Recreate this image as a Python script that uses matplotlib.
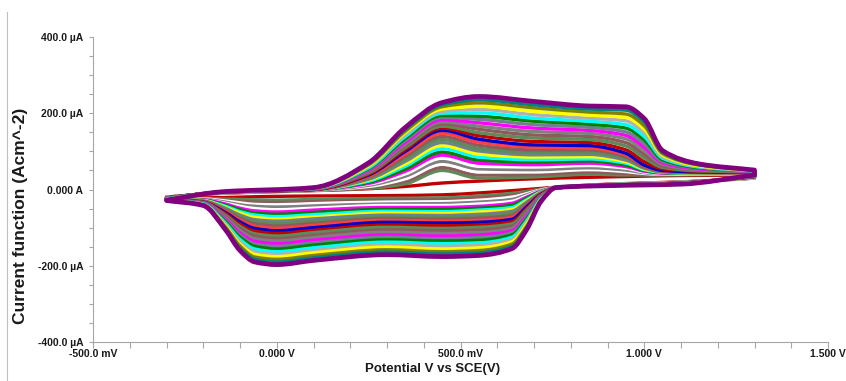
import matplotlib
matplotlib.use("Agg")
import matplotlib.pyplot as plt
import numpy as np
from matplotlib.lines import Line2D
from matplotlib.patches import PathPatch
from matplotlib.path import Path

# Repeated CV scans, -300 mV -> 1300 mV -> -300 mV vs SCE, 28 cycles.
# Potentials (mV) at which each scan branch is sampled.
E_FWD = [-300, -150, 100, 250, 350, 450, 550, 700, 850, 950, 1000, 1050, 1150, 1300]
E_REV = [1300, 1100, 900, 760, 720, 680, 640, 550, 450, 300, 100, 0, -60, -100, -140, -200, -300]

# Current (uA), one row per potential, one entry per cycle (1..28).
I_FWD = [
    [-20, -20, -20, -20, -20, -21, -21, -21, -21, -21, -21, -22, -22, -22, -22, -22, -23, -23, -23, -24, -24, -25, -25, -26, -26, -27, -27, -28],
    [-10, -9, -9, -9, -9, -8, -8, -8, -8, -8, -8, -7, -7, -7, -7, -7, -7, -7, -7, -7, -6, -6, -6, -6, -6, -6, -6, -6],
    [-3, -2, -2, -2, -2, -1, -1, -1, -1, -1, -1, 0, 0, 0, 0, 0, 1, 1, 2, 2, 2, 3, 3, 3, 4, 4, 5, 5],
    [2, 3, 6, 8, 11, 14, 16, 19, 22, 25, 27, 30, 33, 35, 38, 40, 43, 45, 48, 50, 53, 55, 57, 60, 62, 65, 67, 70],
    [8, 15, 22, 28, 35, 41, 48, 54, 61, 67, 74, 80, 87, 93, 100, 105, 110, 115, 119, 124, 129, 134, 139, 144, 149, 153, 158, 163],
    [17, 50, 58, 66, 74, 82, 90, 98, 107, 115, 123, 131, 139, 147, 155, 161, 166, 172, 177, 183, 189, 194, 200, 205, 211, 217, 222, 228],
    [22, 30, 38, 46, 54, 61, 69, 77, 85, 93, 101, 108, 116, 124, 132, 141, 149, 158, 166, 175, 184, 192, 201, 210, 218, 227, 235, 244],
    [28, 33, 39, 46, 52, 59, 65, 72, 78, 85, 91, 98, 104, 111, 117, 126, 135, 143, 152, 161, 170, 179, 187, 196, 205, 214, 222, 231],
    [32, 40, 46, 52, 57, 63, 69, 75, 80, 86, 92, 98, 104, 109, 115, 123, 131, 139, 147, 155, 163, 171, 179, 187, 195, 203, 211, 219],
    [34, 38, 42, 47, 51, 56, 60, 64, 69, 73, 77, 82, 86, 91, 95, 104, 114, 123, 133, 142, 151, 161, 170, 180, 189, 198, 208, 217],
    [35, 38, 40, 42, 44, 46, 48, 50, 52, 54, 56, 58, 60, 62, 64, 73, 83, 92, 102, 111, 120, 130, 139, 149, 158, 167, 177, 186],
    [36, 38, 39, 40, 41, 42, 43, 44, 45, 46, 46, 47, 48, 49, 50, 54, 58, 62, 66, 70, 74, 78, 82, 86, 90, 94, 98, 102],
    [37, 39, 40, 40, 41, 41, 42, 42, 43, 43, 44, 44, 45, 45, 46, 48, 49, 51, 52, 54, 56, 57, 59, 60, 62, 64, 65, 67],
    [38, 40, 40, 41, 41, 41, 42, 42, 42, 43, 43, 44, 44, 44, 45, 46, 46, 47, 47, 48, 48, 49, 49, 49, 50, 50, 51, 51],
]
I_REV = [
    [30, 30, 30, 31, 31, 31, 32, 32, 32, 32, 33, 33, 33, 34, 34, 34, 35, 35, 35, 35, 36, 36, 36, 37, 37, 37, 38, 38],
    [20, 19, 19, 19, 19, 18, 18, 18, 18, 18, 18, 17, 17, 17, 17, 17, 17, 16, 16, 16, 16, 15, 15, 15, 15, 14, 14, 14],
    [14, 13, 13, 13, 13, 12, 12, 12, 12, 12, 12, 11, 11, 11, 11, 11, 11, 11, 11, 11, 11, 10, 10, 10, 10, 10, 10, 10],
    [6, 5, 5, 5, 5, 5, 5, 5, 4, 4, 4, 4, 4, 4, 4, 4, 4, 4, 4, 4, 4, 5, 5, 5, 5, 5, 5, 5],
    [3, 1, 0, -1, -2, -3, -4, -5, -6, -7, -8, -9, -10, -11, -12, -13, -15, -16, -18, -19, -20, -22, -23, -25, -26, -27, -29, -30],
    [0, -5, -8, -11, -14, -17, -20, -23, -27, -30, -33, -36, -39, -42, -45, -50, -54, -59, -63, -68, -73, -77, -82, -86, -91, -96, -100, -105],
    [-3, -10, -15, -20, -26, -31, -36, -41, -47, -52, -57, -62, -68, -73, -78, -84, -90, -96, -102, -108, -114, -119, -125, -131, -137, -143, -149, -155],
    [-9, -17, -22, -28, -33, -38, -44, -49, -54, -59, -65, -70, -75, -81, -86, -93, -99, -106, -113, -119, -126, -133, -140, -146, -153, -160, -166, -173],
    [-14, -22, -27, -32, -37, -42, -47, -52, -58, -63, -68, -73, -78, -83, -88, -95, -102, -108, -115, -122, -129, -135, -142, -149, -156, -163, -169, -176],
    [-16, -23, -28, -33, -38, -42, -47, -52, -57, -62, -67, -72, -76, -81, -86, -93, -99, -106, -112, -119, -125, -132, -138, -145, -151, -158, -164, -171],
    [-17, -26, -32, -37, -43, -49, -54, -60, -66, -72, -77, -83, -89, -94, -100, -107, -113, -120, -126, -133, -140, -146, -153, -160, -166, -173, -179, -186],
    [-18, -28, -34, -40, -46, -53, -59, -65, -71, -77, -83, -90, -96, -102, -108, -115, -122, -129, -135, -142, -149, -156, -163, -170, -176, -183, -190, -197],
    [-19, -27, -33, -39, -44, -50, -56, -62, -67, -73, -79, -85, -90, -96, -102, -109, -116, -122, -129, -136, -143, -149, -156, -163, -170, -177, -183, -190],
    [-20, -26, -31, -35, -40, -44, -49, -53, -58, -62, -67, -71, -76, -80, -85, -91, -97, -102, -108, -114, -120, -125, -131, -137, -143, -148, -154, -160],
    [-21, -25, -28, -30, -33, -36, -38, -41, -44, -47, -49, -52, -55, -57, -60, -63, -67, -70, -74, -77, -81, -84, -88, -91, -95, -98, -102, -105],
    [-22, -24, -25, -25, -26, -27, -27, -28, -29, -29, -30, -31, -31, -32, -33, -34, -34, -35, -36, -36, -37, -38, -38, -39, -40, -40, -41, -42],
    [-25, -25, -25, -25, -25, -25, -25, -25, -26, -26, -26, -26, -26, -26, -26, -26, -27, -27, -27, -27, -27, -28, -28, -28, -28, -28, -29, -29],
]

# one colour per cycle, first cycle first
CYCLE_COLORS = [
    "#C00000", "#5B8C5A", "#8E5A5A", "#FFFFFF", "#808080", "#FFFFFF", "#FF00FF",
    "#008000", "#00FFFF", "#FFFF00", "#708090", "#5B8C5A", "#8E5A5A", "#FF4040",
    "#0000CD", "#C00000", "#5B8C5A", "#8E5A5A", "#808080", "#FF00FF", "#708090",
    "#008000", "#00FFFF", "#B0B0B0", "#FFFF00", "#808000", "#008080", "#800080",
]

XTICK_LABELS = {-500: "-500.0 mV", 0: "0.000 V", 500: "500.0 mV", 1000: "1.000 V", 1500: "1.500 V"}
YTICK_LABELS = {400: "400.0 µA", 200: "200.0 µA", 0: "0.000 A", -200: "-200.0 µA", -400: "-400.0 µA"}

NARROW = ["Liberation Sans Narrow", "Liberation Sans", "DejaVu Sans"]
GRID_GRAY = "#A6A6A6"


def slopes(x, y):
    # monotone (Fritsch-Carlson) tangents so the curves don't overshoot
    h = np.diff(x)
    d = np.diff(y) / h
    m = np.empty_like(y)
    m[0], m[-1] = d[0], d[-1]
    for i in range(1, len(x) - 1):
        if d[i - 1] * d[i] <= 0:
            m[i] = 0.0
        else:
            w1, w2 = 2 * h[i] + h[i - 1], h[i] + 2 * h[i - 1]
            m[i] = (w1 + w2) / (w1 / d[i - 1] + w2 / d[i])
    return m


def bezier(x, y):
    x = np.asarray(x, float)
    y = np.asarray(y, float)
    m = slopes(x, y)
    verts = []
    for i in range(len(x) - 1):
        h = x[i + 1] - x[i]
        verts += [(x[i] + h / 3, y[i] + m[i] * h / 3),
                  (x[i + 1] - h / 3, y[i + 1] - m[i + 1] * h / 3),
                  (x[i + 1], y[i + 1])]
    return verts


def cycle_path(i_fwd, i_rev):
    verts = [(E_FWD[0], i_fwd[0])] + bezier(E_FWD, i_fwd)
    codes = [Path.MOVETO] + [Path.CURVE4] * (len(verts) - 1)
    verts.append((E_REV[0], i_rev[0]))
    codes.append(Path.LINETO)
    rev = bezier(E_REV, i_rev)
    verts += rev
    codes += [Path.CURVE4] * len(rev)
    verts.append((E_FWD[0], i_fwd[0]))
    codes.append(Path.CLOSEPOLY)
    return Path(verts, codes)


def main():
    fwd = np.array(I_FWD, float).T
    rev = np.array(I_REV, float).T

    fig = plt.figure(figsize=(8.46, 3.81), dpi=100)
    ax = fig.add_axes([93 / 846, 1 - 342 / 381, 735 / 846, 305 / 381])

    for k, (f, r) in enumerate(zip(fwd, rev)):
        last = k == len(fwd) - 1
        ax.add_patch(PathPatch(cycle_path(f, r), fill=False, edgecolor=CYCLE_COLORS[k],
                               lw=3.4 if last else 2.4, joinstyle="round", capstyle="round"))

    ax.set_xlim(-500, 1500)
    ax.set_ylim(-400, 400)

    xt = np.arange(-500, 1501, 100)
    yt = np.arange(-400, 401, 50)
    ax.set_xticks(xt)
    ax.set_xticklabels([XTICK_LABELS.get(int(v), "") for v in xt])
    ax.set_yticks(yt)
    ax.set_yticklabels([YTICK_LABELS.get(int(v), "") for v in yt])

    for side in ("top", "right"):
        ax.spines[side].set_visible(False)
    for side in ("left", "bottom"):
        ax.spines[side].set_color(GRID_GRAY)
        ax.spines[side].set_linewidth(0.8)

    ax.tick_params(direction="out", width=0.8, color=GRID_GRAY)
    ax.tick_params(axis="x", length=4, pad=1.0)
    ax.tick_params(axis="y", length=3, pad=4)
    for lab in ax.get_xticklabels() + ax.get_yticklabels():
        lab.set_fontfamily(NARROW)
        lab.set_fontweight("bold")
        lab.set_fontsize(7.5)
        lab.set_color("#1A1A1A")

    fig.text(433 / 846, 1 - 369 / 381, "Potential V vs SCE(V)", ha="center", va="center",
             family=NARROW, fontweight="bold", fontsize=9.5, color="#1A1A1A")
    fig.text(21 / 846, 1 - 216 / 381, "Current function (Acm^-2)", ha="center", va="center",
             rotation=90, family=["Liberation Sans", "DejaVu Sans"], fontweight="bold",
             fontsize=12.5, color="#1A1A1A")

    # thin frame edge on the far left
    fig.add_artist(Line2D([7 / 846, 7 / 846], [0, 1 - 12 / 381], transform=fig.transFigure,
                          color="#BFBFBF", lw=0.8))

    fig.savefig("out.png", dpi=100)
    plt.close(fig)


if __name__ == "__main__":
    main()
